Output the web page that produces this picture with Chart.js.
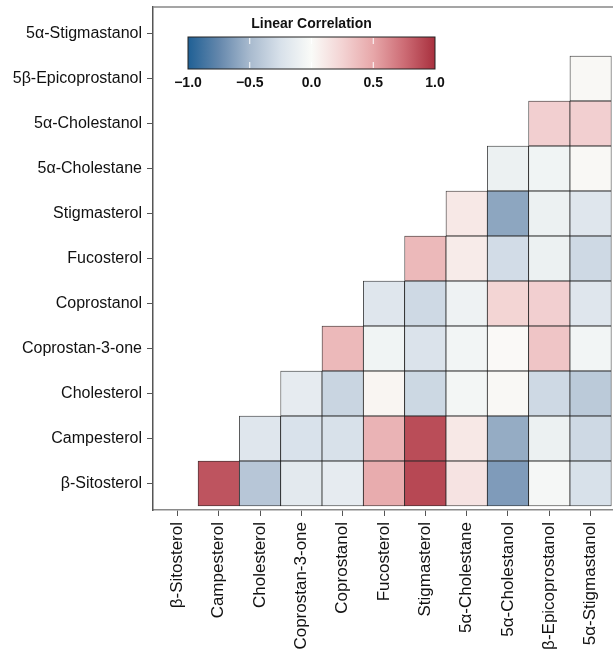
<!DOCTYPE html>
<html>
<head>
<meta charset="utf-8">
<script src="https://cdn.jsdelivr.net/npm/chart.js@4"></script>
<style>
  html, body { margin: 0; padding: 0; background: #fff; overflow: hidden; }
  canvas { display: block; }
</style>
</head>
<body>
<canvas id="heat" width="620" height="650"></canvas>
<script>
// compounds, same order on both axes (bottom-to-top, left-to-right)
const sterols = ['β-Sitosterol', 'Campesterol', 'Cholesterol', 'Coprostan-3-one', 'Coprostanol',
  'Fucosterol', 'Stigmasterol', '5α-Cholestane', '5α-Cholestanol', '5β-Epicoprostanol', '5α-Stigmastanol'];

// correlation of each row compound with the compounds to its right
const rowSitosterol   = [0.85, -0.42, -0.17, -0.15, 0.47, 0.9, 0.15, -0.65, -0.04, -0.25];
const rowCampesterol  = [-0.2, -0.24, -0.25, 0.43, 0.88, 0.12, -0.57, -0.1, -0.3];
const rowCholesterol  = [-0.15, -0.33, 0.04, -0.31, -0.05, 0.02, -0.3, -0.4];
const rowCoprostanone = [0.4, -0.07, -0.23, -0.06, 0.01, 0.33, -0.06];
const rowCoprostanol  = [-0.2, -0.3, -0.09, 0.24, 0.27, -0.2];
const rowFucosterol   = [0.4, 0.1, -0.28, -0.1, -0.3];
const rowStigmasterol = [0.12, -0.6, -0.1, -0.2];
const rowCholestane   = [-0.1, -0.07, 0.02];
const rowCholestanol  = [0.27, 0.27];
const rowEpicoprost   = [0.02];
const rows = [rowSitosterol, rowCampesterol, rowCholesterol, rowCoprostanone, rowCoprostanol,
  rowFucosterol, rowStigmasterol, rowCholestane, rowCholestanol, rowEpicoprost];

const legendTicks = [-1, -0.5, 0, 0.5, 1];

// diverging blue-white-red palette
const stops = [
  [-1, [31, 96, 149]],
  [-0.75, [100, 135, 172]],
  [-0.5, [168, 186, 206]],
  [-0.25, [216, 225, 234]],
  [0, [250, 251, 248]],
  [0.25, [243, 211, 211]],
  [0.5, [231, 167, 169]],
  [0.75, [205, 108, 117]],
  [1, [168, 48, 62]],
];

function colorFor(v) {
  for (let k = 1; k < stops.length; k++) {
    if (v <= stops[k][0]) {
      const [a, ca] = stops[k - 1];
      const [b, cb] = stops[k];
      const t = (v - a) / (b - a);
      const c = ca.map((x, n) => Math.round(x + (cb[n] - x) * t));
      return `rgb(${c[0]},${c[1]},${c[2]})`;
    }
  }
  return `rgb(${stops[stops.length - 1][1].join(',')})`;
}

const datasets = rows.map((vals, i) => ({
  data: vals.map((v, k) => ({ x: i + 1 + k, y: [i - 0.5, i + 0.5], v: v })),
  backgroundColor: ctx => colorFor(ctx.raw.v),
  borderColor: 'rgba(15,15,15,0.9)',
  borderWidth: 0.75,
  borderSkipped: false,
  grouped: false,
  barPercentage: 1,
  categoryPercentage: 1,
}));

const FONT = "'Liberation Sans', Arial, sans-serif";
Chart.defaults.font.family = FONT;
Chart.defaults.color = '#1a1a1a';

const fixTicks = scale => { scale.ticks = sterols.map((_, i) => ({ value: i })); };
const noPad = s => { s.paddingTop = 0; s.paddingBottom = 0; s.paddingLeft = 0; s.paddingRight = 0; };

// frame on top/right and the colour key
const framePlugin = {
  id: 'frame',
  afterDraw(chart) {
    const { ctx, chartArea: a } = chart;
    ctx.save();
    ctx.strokeStyle = '#888';
    ctx.lineWidth = 1.5;
    ctx.beginPath();
    ctx.moveTo(a.left, a.top);
    ctx.lineTo(a.right, a.top);
    ctx.lineTo(a.right, a.bottom);
    ctx.stroke();

    // colour key
    const box = { x: 188, y: 37, w: 247, h: 32 };
    const grad = ctx.createLinearGradient(box.x, 0, box.x + box.w, 0);
    stops.forEach(([v]) => grad.addColorStop((v + 1) / 2, colorFor(v)));
    ctx.fillStyle = grad;
    ctx.fillRect(box.x, box.y, box.w, box.h);
    ctx.strokeStyle = '#222';
    ctx.lineWidth = 1;
    ctx.strokeRect(box.x, box.y, box.w, box.h);

    ctx.strokeStyle = '#fff';
    ctx.lineWidth = 1;
    ctx.fillStyle = '#111';
    ctx.font = 'bold 14px ' + FONT;
    ctx.textAlign = 'center';
    ctx.textBaseline = 'middle';
    legendTicks.forEach(t => {
      const px = box.x + (t + 1) / 2 * box.w;
      if (t > -1 && t < 1) {
        ctx.beginPath();
        ctx.moveTo(px, box.y + 1); ctx.lineTo(px, box.y + 7);
        ctx.moveTo(px, box.y + box.h - 7); ctx.lineTo(px, box.y + box.h - 1);
        ctx.stroke();
      }
      const txt = (t < 0 ? '\u2212' : '') + Math.abs(t).toFixed(1);
      ctx.fillText(txt, px, box.y + box.h + 14);
    });
    ctx.fillText('Linear Correlation', box.x + box.w / 2, 24);
    ctx.restore();
  }
};

new Chart(document.getElementById('heat'), {
  type: 'bar',
  data: { datasets },
  options: {
    responsive: false,
    animation: false,
    devicePixelRatio: 1,
    layout: { padding: { top: 7, right: 5, left: 0, bottom: 0 } },
    plugins: { legend: { display: false }, tooltip: { enabled: false } },
    scales: {
      x: {
        type: 'linear',
        min: -0.59,
        max: 10.59,
        offset: false,
        afterBuildTicks: fixTicks,
        afterFit: s => { s.height = 140; noPad(s); },
        border: { display: true, color: '#8a8a8a', width: 1.5 },
        grid: { display: true, drawOnChartArea: false, drawTicks: true, tickLength: 6, tickColor: '#555', offset: false },
        ticks: {
          autoSkip: false,
          minRotation: 90,
          maxRotation: 90,
          padding: 6,
          font: { size: 17 },
          color: '#111',
          callback: v => sterols[v] ?? '',
        },
      },
      y: {
        type: 'linear',
        min: -0.59,
        max: 10.59,
        afterBuildTicks: fixTicks,
        afterFit: s => { s.width = 153; noPad(s); },
        border: { display: true, color: '#555', width: 1.5 },
        grid: { display: true, drawOnChartArea: false, drawTicks: true, tickLength: 6, tickColor: '#555' },
        ticks: {
          autoSkip: false,
          padding: 5,
          font: { size: 16 },
          color: '#111',
          callback: v => sterols[v] ?? '',
        },
      },
    },
  },
  plugins: [framePlugin],
});
</script>
</body>
</html>
